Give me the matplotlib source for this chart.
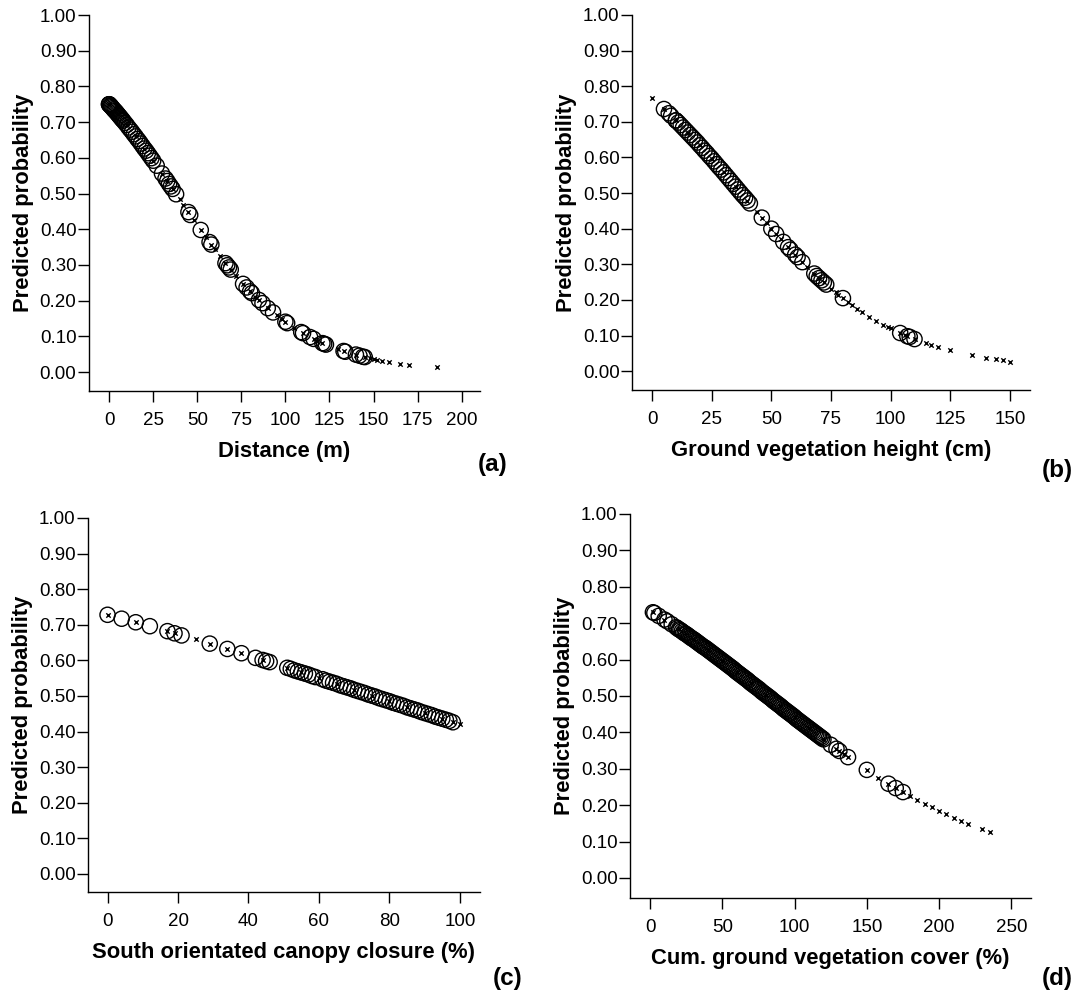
import matplotlib
matplotlib.use("Agg")
import matplotlib.pyplot as plt
from matplotlib.ticker import FormatStrFormatter

plt.rcParams['font.family'] = ['Liberation Sans', 'DejaVu Sans']

# ---- (a) Distance (m)
dist_circ_x = [0, 0, 0, 0.5, 1, 1, 1.5, 2, 2.5, 3, 3.5, 4, 4.5, 5, 5.5, 6, 6.5, 7, 7.5, 8,
               9, 10, 11, 12, 13, 14, 15, 16, 17, 18, 19, 20, 21, 22, 23, 24, 25, 27, 30, 32,
               33, 34, 35, 36, 38, 45, 46, 52, 57, 58, 66, 67, 68, 69, 76, 78, 80, 81, 85, 87,
               90, 93, 100, 101, 109, 110, 114, 116, 121, 122, 123, 133, 134, 140, 142, 144, 145]
dist_circ_y = [.750, .750, .750, .747, .745, .745, .742, .739, .736, .733, .731, .728, .725, .722,
               .719, .716, .713, .710, .707, .704, .698, .692, .685, .679, .673, .666, .660, .653,
               .647, .640, .633, .626, .620, .613, .606, .599, .592, .578, .556, .542, .535, .527,
               .520, .513, .498, .448, .440, .398, .364, .357, .305, .299, .293, .287, .247, .237,
               .226, .221, .202, .193, .179, .167, .141, .137, .112, .109, .098, .093, .081, .079,
               .077, .059, .057, .049, .046, .043, .042]
dist_cross_x = [0, 5, 10, 15, 20, 25, 30, 33, 36, 40, 42, 45, 48, 52, 55, 58, 60, 63, 66, 69, 72,
                76, 80, 83, 85, 90, 95, 98, 100, 105, 110, 116, 118, 121, 130, 133, 140, 145, 148,
                150, 152, 155, 159, 165, 170, 186]
dist_cross_y = [.750, .722, .692, .660, .626, .592, .556, .535, .513, .484, .469, .448, .426, .398,
                .377, .357, .344, .324, .305, .287, .270, .247, .226, .211, .202, .179, .159, .148,
                .141, .124, .109, .093, .088, .081, .064, .059, .049, .042, .039, .037, .035, .032,
                .029, .024, .021, .013]

# ---- (b) Ground vegetation height (cm)
veg_circ_x = [5, 7, 8, 10, 10, 11, 12, 13, 14, 15, 16, 17, 18, 19, 20, 21, 22, 23, 24, 25, 26,
              27, 28, 29, 30, 31, 32, 33, 34, 35, 36, 37, 38, 39, 40, 41, 46, 50, 52, 55, 57, 58,
              60, 61, 63, 68, 69, 70, 71, 72, 73, 80, 104, 107, 108, 110]
veg_circ_y = [.736, .724, .717, .704, .704, .698, .691, .684, .677, .670, .663, .656, .649, .642,
              .634, .627, .619, .612, .604, .597, .589, .581, .573, .566, .558, .550, .542, .534,
              .526, .518, .510, .502, .494, .487, .479, .471, .431, .400, .385, .363, .348, .341,
              .327, .320, .306, .274, .267, .261, .255, .249, .243, .205, .107, .098, .096, .090]
veg_cross_x = [0, 5, 10, 15, 20, 25, 30, 35, 40, 44, 46, 48, 50, 52, 54, 57, 60, 63, 65, 68, 70,
               72, 75, 77, 78, 80, 82, 84, 86, 88, 91, 94, 97, 99, 100, 104, 106, 107, 110, 115,
               117, 120, 125, 134, 140, 144, 147, 150]
veg_cross_y = [.766, .736, .704, .670, .634, .597, .558, .518, .479, .447, .431, .416, .400, .385,
               .370, .348, .327, .306, .293, .274, .261, .249, .232, .221, .215, .205, .194, .185,
               .175, .166, .153, .141, .130, .123, .120, .107, .101, .098, .090, .078, .074, .067,
               .058, .044, .037, .033, .030, .027]

# ---- (c) South orientated canopy closure (%)
can_circ_x = [0, 4, 8, 12, 17, 19, 21, 29, 34, 38, 42, 44, 45, 46, 51, 52, 53, 54, 55, 56, 57,
              58, 59, 61, 62, 63, 64, 65, 66, 67, 68, 69, 70, 71, 72, 73, 74, 75, 76, 77, 78, 79,
              80, 81, 82, 83, 84, 85, 86, 87, 88, 89, 90, 91, 92, 93, 94, 95, 96, 97, 98]
can_circ_y = [.728, .717, .707, .696, .682, .676, .670, .647, .632, .620, .607, .601, .598, .595,
              .579, .576, .572, .569, .566, .563, .560, .556, .553, .547, .543, .540, .537, .534,
              .530, .527, .524, .521, .517, .514, .511, .508, .504, .501, .498, .494, .491, .488,
              .485, .481, .478, .475, .472, .468, .465, .462, .459, .455, .452, .449, .446, .442,
              .439, .436, .433, .430, .426]
can_cross_x = [0, 8, 17, 19, 25, 29, 34, 38, 44, 51, 55, 60, 65, 70, 75, 80, 85, 90, 95, 98, 100]
can_cross_y = [.728, .707, .682, .676, .659, .647, .632, .620, .601, .579, .566, .550, .534, .517,
               .501, .485, .468, .452, .436, .426, .420]

# ---- (d) Cum. ground vegetation cover (%)
cov_circ_x = [2, 3, 6, 10, 12, 15,
              18, 19, 20, 21, 22, 23, 24, 25, 26, 27, 28, 29, 30, 31, 32, 33, 34, 35, 36, 37,
              38, 39, 40, 41, 42, 43, 44, 45, 46, 47, 48, 49, 50, 51, 52, 53, 54, 55, 56, 57,
              58, 59, 60, 61, 62, 63, 64, 65, 66, 67, 68, 69, 70, 71, 72, 73, 74, 75, 76, 77,
              78, 79, 80, 81, 82, 83, 84, 85, 86, 87, 88, 89, 90, 91, 92, 93, 94, 95, 96, 97,
              98, 99, 100, 101, 102, 103, 104, 105, 106, 107, 108, 109, 110, 111, 112, 113,
              114, 115, 116, 117, 118, 119, 120,
              125, 129, 131, 137, 150, 165, 170, 175]
cov_circ_y = [.730, .728, .720, .710, .705, .697,
              .689, .686, .683, .681, .678, .675, .672, .670, .667, .664, .661, .658, .656, .653,
              .650, .647, .644, .641, .638, .635, .633, .630, .627, .624, .621, .618, .615, .612,
              .609, .606, .603, .600, .597, .594, .591, .588, .585, .582, .579, .576, .573, .569,
              .566, .563, .560, .557, .554, .551, .548, .545, .542, .538, .535, .532, .529, .526,
              .523, .520, .517, .513, .510, .507, .504, .501, .498, .495, .492, .488, .485, .482,
              .479, .476, .473, .470, .466, .463, .460, .457, .454, .451, .448, .445, .442, .438,
              .435, .432, .429, .426, .423, .420, .417, .414, .411, .408, .405, .402, .399, .396,
              .393, .390, .387, .384, .381,
              .366, .355, .349, .332, .297, .259, .247, .236]
cov_cross_x = [2, 10, 20, 30, 40, 50, 60, 70, 80, 90, 100, 110, 120, 129, 131, 134, 137, 150, 158,
               165, 170, 175, 180, 185, 190, 195, 200, 205, 210, 215, 220, 230, 235]
cov_cross_y = [.730, .710, .683, .656, .627, .597, .566, .535, .504, .473, .442, .411, .381, .355,
               .349, .340, .332, .297, .276, .259, .247, .236, .225, .214, .204, .194, .184, .175,
               .166, .157, .149, .134, .127]

y_ticks = [0.0, 0.1, 0.2, 0.3, 0.4, 0.5, 0.6, 0.7, 0.8, 0.9, 1.0]

W, H = 1079, 992
fig = plt.figure(figsize=(W / 100, H / 100), dpi=100)

# panel settings: pixel box (left, right, top, bottom), limits, ticks, labels
panels = [
    dict(box=(89, 480, 15, 391), xlim=(-11.4, 210.4), ylow=-0.053,
         xticks=[0, 25, 50, 75, 100, 125, 150, 175, 200], xlabel="Distance (m)",
         data=(dist_circ_x, dist_circ_y, dist_cross_x, dist_cross_y),
         tag="(a)", tag_pos=(478, 464)),
    dict(box=(632, 1030, 15, 390), xlim=(-8.4, 158.4), ylow=-0.053,
         xticks=[0, 25, 50, 75, 100, 125, 150], xlabel="Ground vegetation height (cm)",
         data=(veg_circ_x, veg_circ_y, veg_cross_x, veg_cross_y),
         tag="(b)", tag_pos=(1042, 471)),
    dict(box=(88, 480, 518, 892), xlim=(-5.55, 105.7), ylow=-0.051,
         xticks=[0, 20, 40, 60, 80, 100], xlabel="South orientated canopy closure (%)",
         data=(can_circ_x, can_circ_y, can_cross_x, can_cross_y),
         tag="(c)", tag_pos=(493, 978)),
    dict(box=(630, 1031, 514, 898), xlim=(-13.85, 263.6), ylow=-0.055,
         xticks=[0, 50, 100, 150, 200, 250], xlabel="Cum. ground vegetation cover (%)",
         data=(cov_circ_x, cov_circ_y, cov_cross_x, cov_cross_y),
         tag="(d)", tag_pos=(1042, 979)),
]

for p in panels:
    l, r, t, b = p["box"]
    ax = fig.add_axes([l / W, 1 - b / H, (r - l) / W, (b - t) / H])
    cx, cy, kx, ky = p["data"]

    # observed cases as open circles, predicted values as small crosses
    ax.scatter(cx, cy, s=120, facecolors="none", edgecolors="black", linewidths=1.0, zorder=2)
    ax.scatter(kx, ky, s=10, marker="x", color="black", linewidths=1.0, zorder=3)

    ax.set_xlim(*p["xlim"])
    ax.set_ylim(p["ylow"], 1.0)
    ax.set_xticks(p["xticks"])
    ax.set_yticks(y_ticks)
    ax.yaxis.set_major_formatter(FormatStrFormatter("%.2f"))

    for side in ("top", "right"):
        ax.spines[side].set_visible(False)
    for side in ("left", "bottom"):
        ax.spines[side].set_linewidth(1.0)

    ax.tick_params(axis="both", direction="out", length=8, width=1.0, labelsize=13.5)
    ax.tick_params(axis="y", pad=1)
    ax.tick_params(axis="x", pad=7)

    ax.set_xlabel(p["xlabel"], fontsize=15.8, fontweight="bold", labelpad=9)
    ax.set_ylabel("Predicted probability", fontsize=15.8, fontweight="bold", labelpad=4)

    fig.text(p["tag_pos"][0] / W, 1 - p["tag_pos"][1] / H, p["tag"],
             fontsize=17.5, fontweight="bold", ha="left", va="center")

fig.savefig("out.png", dpi=100)
